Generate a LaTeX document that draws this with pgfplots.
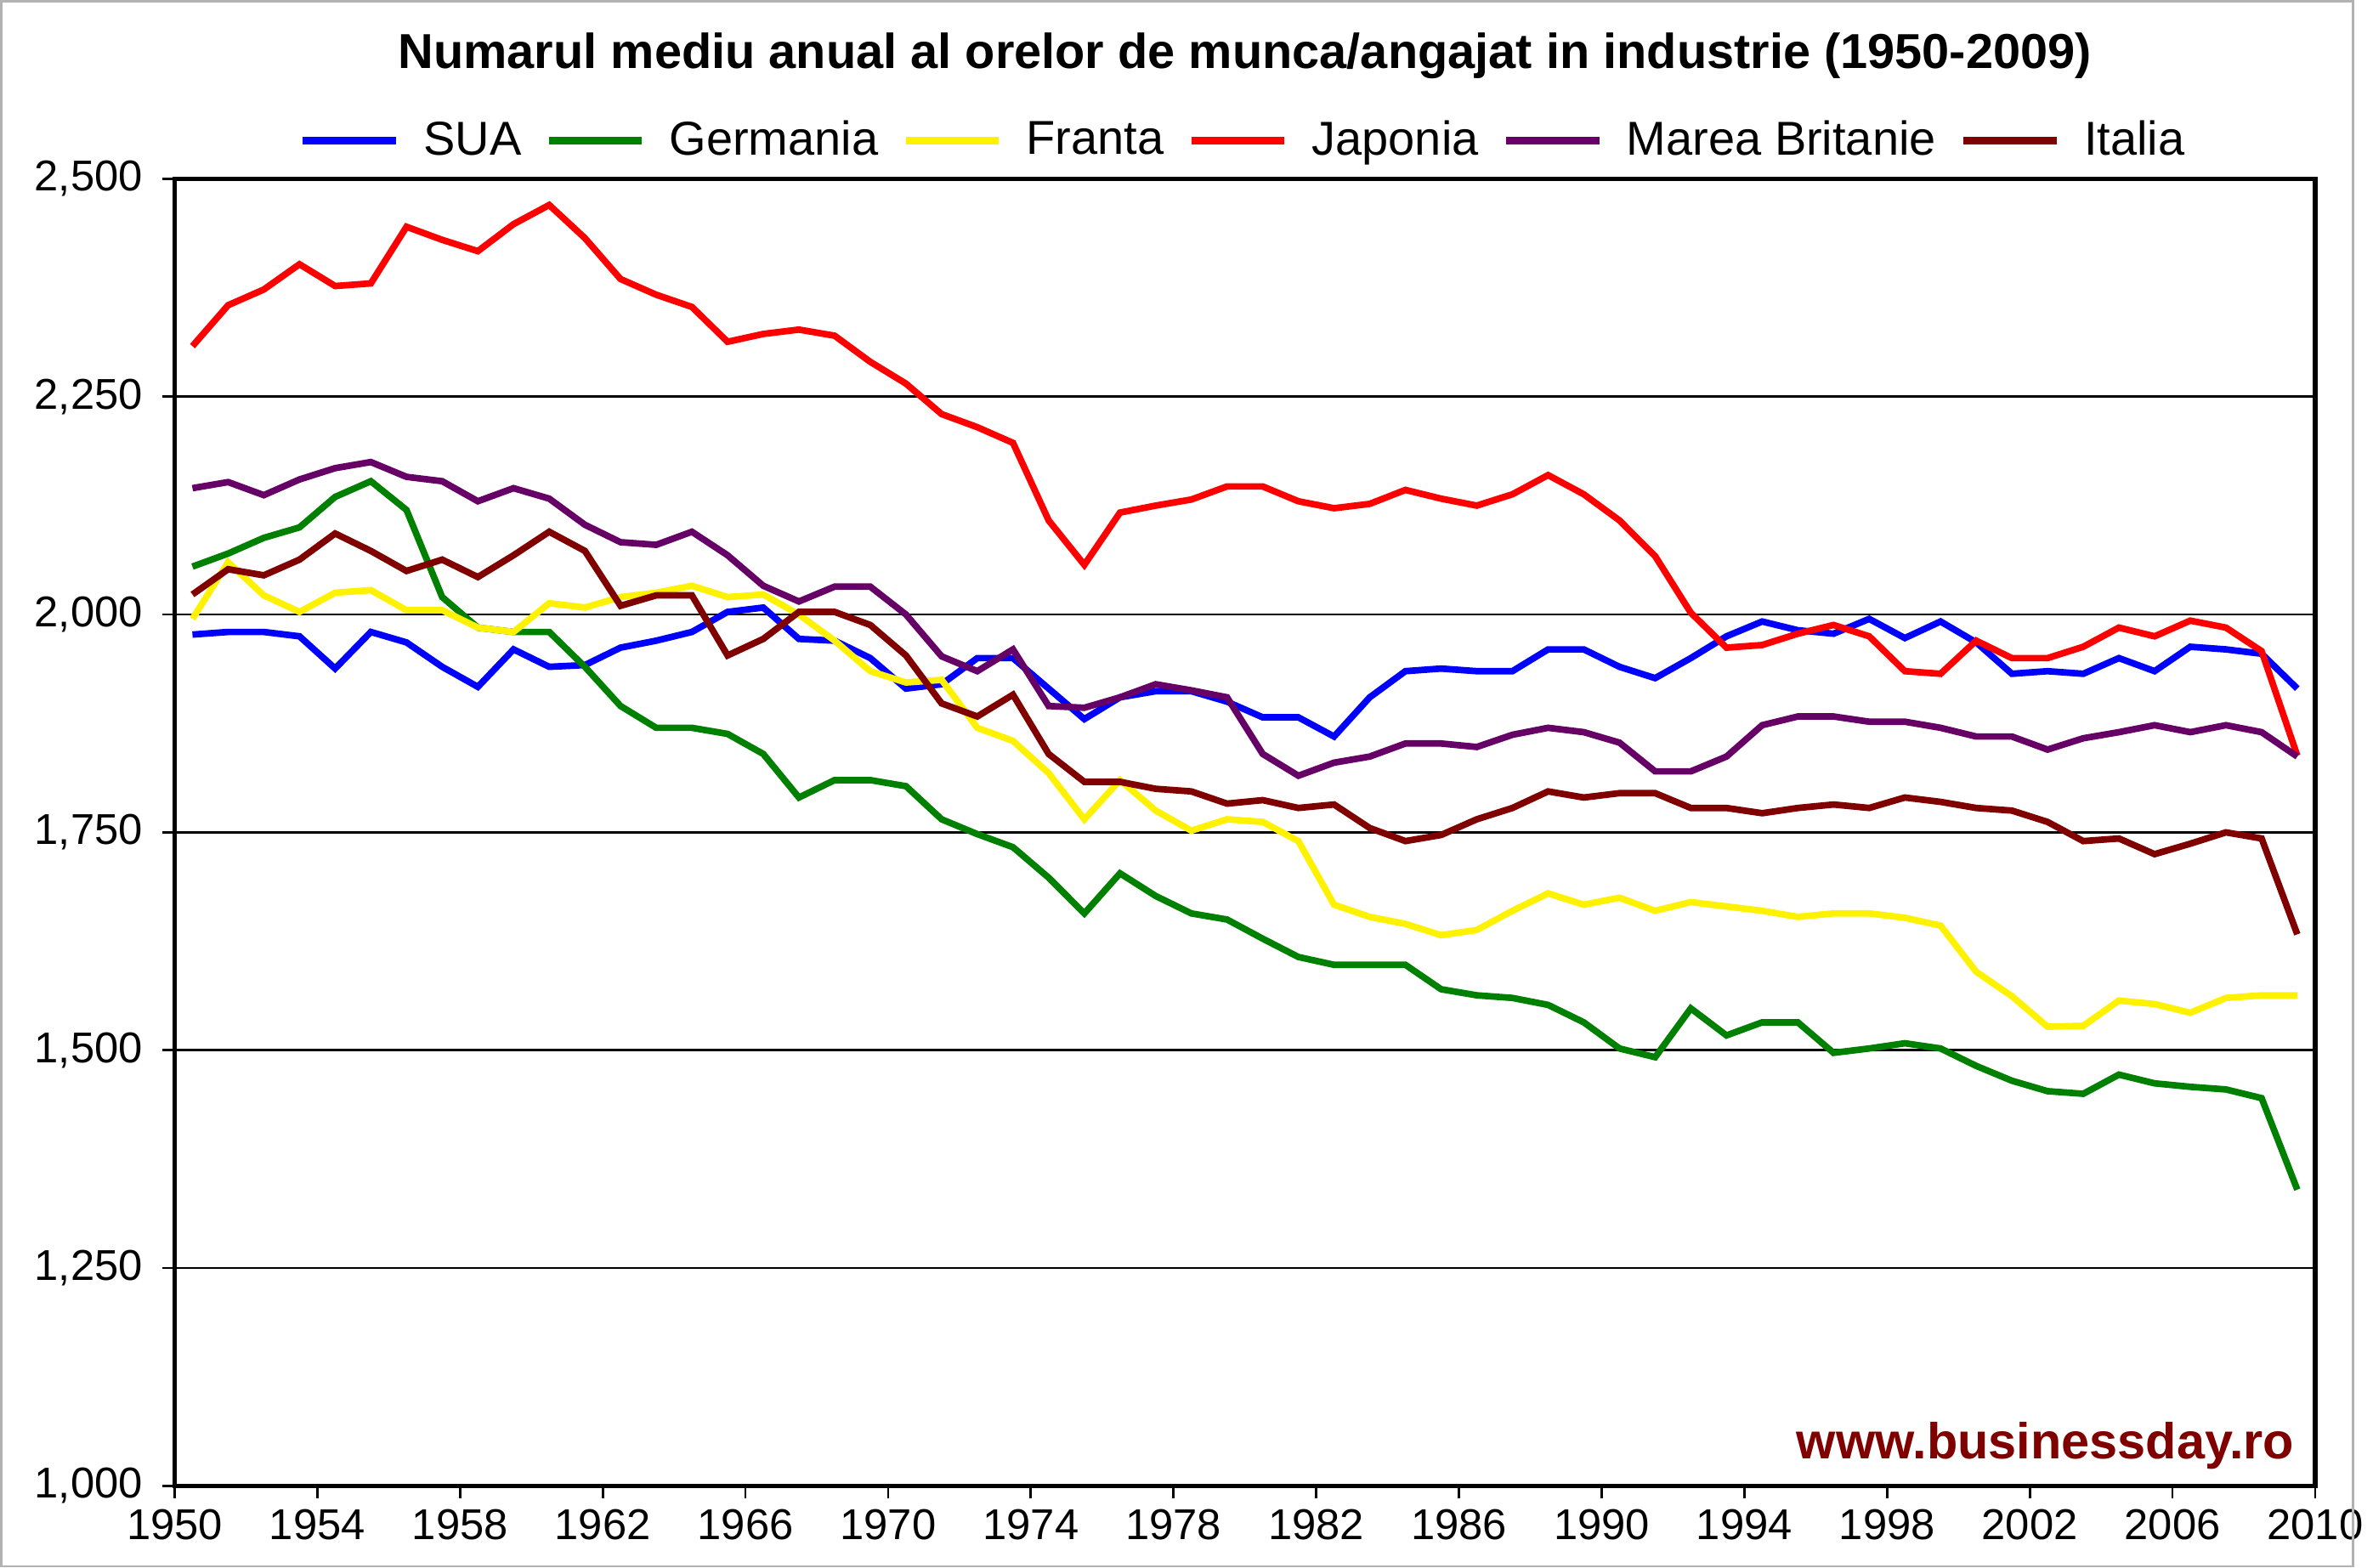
\documentclass[border=0pt]{standalone}
\usepackage{pgfplots}
\pgfplotsset{compat=1.18}
\usepackage{pgfplotstable}
\usepackage{fontspec}
\setmainfont{Liberation Sans}
\pgfplotstableread{
y sua ger fra jap uk ita
1950 1977 2055 1995 2308 2145 2023
1951 1980 2070 2060 2355 2152 2052
1952 1980 2088 2022 2373 2137 2045
1953 1975 2100 2003 2402 2155 2063
1954 1938 2135 2025 2377 2168 2093
1955 1980 2153 2028 2380 2175 2073
1956 1968 2120 2005 2445 2158 2050
1957 1940 2020 2005 2430 2153 2063
1958 1917 1985 1985 2417 2130 2043
1959 1960 1980 1980 2448 2145 2068
1960 1940 1980 2013 2470 2133 2095
1961 1942 1940 2008 2432 2103 2073
1962 1962 1895 2020 2385 2083 2010
1963 1970 1870 2025 2367 2080 2022
1964 1980 1870 2033 2353 2095 2022
1965 2003 1863 2020 2313 2068 1953
1966 2008 1840 2023 2322 2033 1972
1967 1972 1790 2000 2327 2015 2003
1968 1970 1810 1970 2320 2032 2003
1969 1950 1810 1935 2290 2032 1988
1970 1915 1803 1922 2265 2000 1953
1971 1920 1765 1925 2230 1952 1898
1972 1950 1748 1870 2215 1935 1883
1973 1950 1733 1855 2197 1960 1908
1974 1915 1698 1818 2108 1895 1840
1975 1880 1657 1765 2057 1893 1808
1976 1905 1703 1810 2117 1905 1808
1977 1912 1677 1775 2125 1920 1800
1978 1912 1657 1752 2132 1913 1797
1979 1900 1650 1765 2147 1905 1783
1980 1882 1628 1762 2147 1840 1787
1981 1882 1607 1740 2130 1815 1778
1982 1860 1598 1667 2122 1830 1782
1983 1905 1598 1653 2127 1837 1755
1984 1935 1598 1645 2143 1852 1740
1985 1938 1570 1632 2133 1852 1747
1986 1935 1563 1638 2125 1848 1765
1987 1935 1560 1660 2138 1862 1778
1988 1960 1552 1680 2160 1870 1797
1989 1960 1532 1667 2138 1865 1790
1990 1940 1502 1675 2108 1853 1795
1991 1927 1492 1660 2067 1820 1795
1992 1950 1548 1670 2002 1820 1778
1993 1975 1517 1665 1962 1837 1778
1994 1992 1532 1660 1965 1873 1772
1995 1982 1532 1653 1978 1883 1778
1996 1978 1497 1657 1988 1883 1782
1997 1995 1502 1657 1975 1877 1778
1998 1973 1508 1652 1935 1877 1790
1999 1992 1502 1643 1932 1870 1785
2000 1968 1482 1590 1970 1860 1778
2001 1932 1465 1562 1950 1860 1775
2002 1935 1453 1527 1950 1845 1762
2003 1932 1450 1528 1963 1858 1740
2004 1950 1472 1557 1985 1865 1743
2005 1935 1462 1553 1975 1873 1725
2006 1963 1458 1543 1993 1865 1737
2007 1960 1455 1560 1985 1873 1750
2008 1955 1445 1563 1958 1865 1743
2009 1915 1340 1563 1838 1837 1633
}\data
\begin{document}
\begin{tikzpicture}
\begin{axis}[name=ax, scale only axis, width=25.3cm, height=15.45cm,
 xmin=1950, xmax=2010, ymin=1000, ymax=2500,
 xtick={1950,1954,...,2010}, ytick={1000,1250,...,2500},
 x tick label style={/pgf/number format/1000 sep={}},
 /pgf/number format/1000 sep={,}, /pgf/number format/assume math mode=true,
 tick label style={font=\fontsize{14.5}{16}\selectfont},
 yticklabel style={xshift=-3pt},
 ymajorgrids, grid style={black, line width=0.8pt},
 axis line style={line width=1.6pt},
 tick align=outside, tick style={black, line width=0.8pt},
 xtick pos=bottom, ytick pos=left,
 legend columns=6, legend style={at={(0.5,1.005)}, anchor=south, draw=none, font=\fontsize{16}{18}\selectfont, column sep=6pt},
 legend image code/.code={\draw[#1, line width=2.5pt] (0cm,0cm) -- (1.1cm,0cm);},
 every axis plot/.append style={line width=2.2pt, no marks},
 title={\bfseries Numarul mediu anual al orelor de munca/angajat in industrie (1950-2009)},
 title style={font=\fontsize{16.5}{19}\selectfont, yshift=24pt},
]
\addplot[blue] table[x expr=\thisrow{y}+0.5, y=sua]{\data};
\addplot[green!50!black] table[x expr=\thisrow{y}+0.5, y=ger]{\data};
\addplot[yellow] table[x expr=\thisrow{y}+0.5, y=fra]{\data};
\addplot[red] table[x expr=\thisrow{y}+0.5, y=jap]{\data};
\addplot[violet!80!black] table[x expr=\thisrow{y}+0.5, y=uk]{\data};
\addplot[red!50!black] table[x expr=\thisrow{y}+0.5, y=ita]{\data};
\legend{SUA,Germania,Franta,Japonia,Marea Britanie,Italia}
\node[anchor=south east, text=red!50!black, font=\bfseries\fontsize{17}{19}\selectfont] at (rel axis cs:0.995,0.005) {www.businessday.ro};
\end{axis}
\draw[gray!60, line width=0.8pt] ([xshift=-2.05cm,yshift=-0.95cm]ax.south west) rectangle ([xshift=0.45cm,yshift=2.1cm]ax.north east);
\end{tikzpicture}
\end{document}
